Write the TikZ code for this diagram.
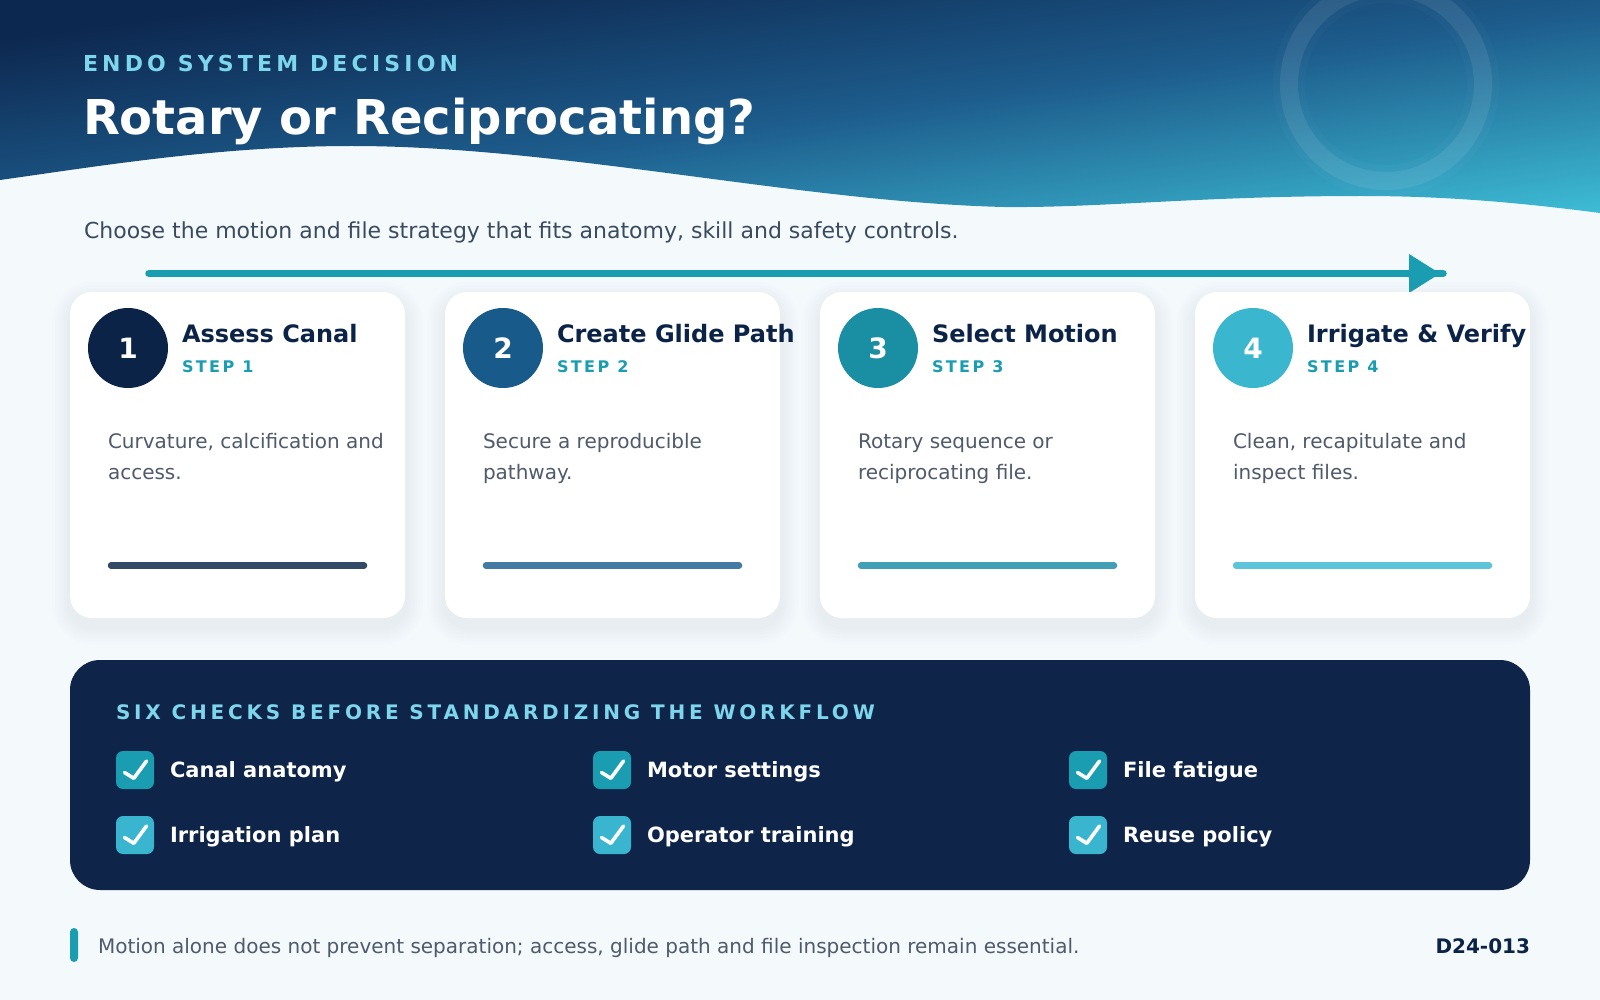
\documentclass[tikz,border=0pt]{standalone}
\usepackage{fontspec}
\setmainfont{DejaVu Sans}
\newfontfamily\spacedA[LetterSpace=19]{DejaVu Sans}
\newfontfamily\spacedB[LetterSpace=15]{DejaVu Sans}
\usetikzlibrary{calc}
\definecolor{bgc}{HTML}{F4F9FC}
\definecolor{hdA}{HTML}{0D2850}
\definecolor{hdM}{HTML}{1D5C8C}
\definecolor{hdB}{HTML}{3DBCD5}
\definecolor{navy}{HTML}{0B2347}
\definecolor{panelc}{HTML}{0E2449}
\definecolor{tealc}{HTML}{1A9CB1}
\definecolor{kicker}{HTML}{7DD6EC}
\definecolor{subt}{HTML}{3B4B5E}
\definecolor{bodyc}{HTML}{4F5A6B}
\definecolor{cA}{HTML}{0B2347}
\definecolor{cB}{HTML}{185A8A}
\definecolor{cC}{HTML}{1A8FA3}
\definecolor{cD}{HTML}{3BB6CF}
\definecolor{bA}{HTML}{334A66}
\definecolor{bB}{HTML}{437BA5}
\definecolor{bC}{HTML}{41A0B6}
\definecolor{bD}{HTML}{5EC4DA}
\definecolor{chkA}{HTML}{1A9CB1}
\definecolor{chkB}{HTML}{3AB5CF}
\definecolor{shadowc}{HTML}{8C9AAB}
\pgfdeclarehorizontalshading{hdrshade}{100bp}{color(0bp)=(hdA); color(21bp)=(hdA); color(52bp)=(hdM); color(85bp)=(hdB); color(100bp)=(hdB)}
\tikzset{
  every node/.style={inner sep=0pt, outer sep=0pt},
  cardbox/.style={fill=white, rounded corners=22pt, minimum width=335pt, minimum height=326pt, anchor=north west},
  numdisc/.style={circle, minimum size=80pt, text=white, font=\fontsize{28}{32}\selectfont\bfseries},
  cardtitle/.style={anchor=base west, text=navy, font=\fontsize{24}{28}\selectfont\bfseries},
  steplabel/.style={anchor=base west, text=tealc, font=\fontsize{16}{20}\selectfont\spacedB\bfseries},
  bodytext/.style={anchor=base west, text=bodyc, font=\fontsize{20}{24}\selectfont},
  chkbox/.style={rounded corners=7pt, minimum width=38pt, minimum height=38pt},
  chkmark/.style={draw=white, line width=3.6pt, line cap=round, line join=round},
  chklabel/.style={anchor=base west, text=white, font=\fontsize{21}{25}\selectfont\bfseries},
}
\newcommand\stepcard[7]{%
  \foreach \s in {3,6,9,12,15,18}{
    \fill[shadowc, opacity=0.018, rounded corners={22pt+\s pt}] ({#2-\s},{292-\s+8}) rectangle ({#2+335+\s},{618+\s+8});
  }
  \node[cardbox] (card#1) at (#2,292) {};
  \node[numdisc, fill=#6] (num#1) at ({#2+58},348) {#1};
  \node[cardtitle] (title#1) at ({#2+112},342) {#3};
  \node[steplabel] (step#1) at ({#2+112},372) {STEP #1};
  \node[bodytext] (bodya#1) at ({#2+38},448) {#4};
  \node[bodytext] (bodyb#1) at ({#2+38},479) {#5};
  \draw[#7, line width=6.5pt, line cap=round] ({#2+41},565.5) -- ({#2+294},565.5);
}
\newcommand\checkitem[5]{%
  \node[chkbox, fill=#4] (chk#1) at (#2,#3) {};
  \draw[chkmark] ($(chk#1.center)+(-10.5,2.5)$) -- ++(9.3,5.8) -- ++(12.7,-17.3);
  \node[chklabel] (chkt#1) at ({#2+35},{#3+7.5}) {#5};
}
\begin{document}
\begin{tikzpicture}[x=1pt, y=-1pt]
\useasboundingbox (0,0) rectangle (1600,1000);
\fill[bgc] (0,0) rectangle (1600,1000);
% header
\begin{scope}
\clip (0,0) -- (1600,0) -- (1600,213)
  .. controls (1500,200) and (1430,196) .. (1361,196)
  .. controls (1200,196) and (1100,208) .. (1004,207)
  .. controls (800,202) and (560,146) .. (352,146)
  .. controls (220,146) and (100,166) .. (0,180) -- cycle;
\begin{scope}[transform canvas={xscale=16, yscale=2.15}]
\shade[shading=hdrshade, shading angle=-45] (0,0) rectangle (100,100);
\end{scope}
\draw[white, opacity=0.02, line width=32pt] (1386,84) circle (97pt);
\draw[white, opacity=0.08, line width=18pt] (1386,84) circle (97pt);
\end{scope}
\node[anchor=base west, text=kicker, font=\fontsize{22}{26}\selectfont\spacedA\bfseries] (kick) at (83,71.5) {ENDO SYSTEM DECISION};
\node[anchor=base west, text=white, font=\fontsize{48}{56}\selectfont\bfseries] (title) at (83,135) {Rotary or Reciprocating?};
\node[anchor=base west, text=subt, font=\fontsize{22}{26}\selectfont] (sub) at (84,239) {Choose the motion and file strategy that fits anatomy, skill and safety controls.};
% flow arrow
\coordinate (flowS) at (149,273.5);
\coordinate (flowE) at (1443,273.5);
\draw[tealc, line width=7.5pt, line cap=round] (flowS) -- (flowE);
\fill[tealc] (1409,254) -- (1440,273.5) -- (1409,293) -- cycle;
% cards
\stepcard{1}{70}{Assess Canal}{Curvature, calcification and}{access.}{cA}{bA}
\stepcard{2}{445}{Create Glide Path}{Secure a reproducible}{pathway.}{cB}{bB}
\stepcard{3}{820}{Select Motion}{Rotary sequence or}{reciprocating file.}{cC}{bC}
\stepcard{4}{1195}{Irrigate \& Verify}{Clean, recapitulate and}{inspect files.}{cD}{bD}
% checks panel
\node[fill=panelc, rounded corners=30pt, minimum width=1460pt, minimum height=230pt, anchor=north west] (panel) at (70,660) {};
\node[anchor=base west, text=kicker, font=\fontsize{20}{24}\selectfont\spacedA\bfseries] (panelhead) at (116,719) {SIX CHECKS BEFORE STANDARDIZING THE WORKFLOW};
\checkitem{a}{135}{770}{chkA}{Canal anatomy}
\checkitem{b}{612}{770}{chkA}{Motor settings}
\checkitem{c}{1088}{770}{chkA}{File fatigue}
\checkitem{d}{135}{835}{chkB}{Irrigation plan}
\checkitem{e}{612}{835}{chkB}{Operator training}
\checkitem{f}{1088}{835}{chkB}{Reuse policy}
% footer
\node[fill=tealc, rounded corners=4pt, minimum width=8pt, minimum height=34pt, anchor=north west] (fbar) at (70,928) {};
\node[anchor=base west, text=bodyc, font=\fontsize{20}{24}\selectfont] (foot) at (98,953) {Motion alone does not prevent separation; access, glide path and file inspection remain essential.};
\node[anchor=base east, text=navy, font=\fontsize{20}{24}\selectfont\bfseries] (code) at (1530,953) {D24-013};
\end{tikzpicture}
\end{document}
